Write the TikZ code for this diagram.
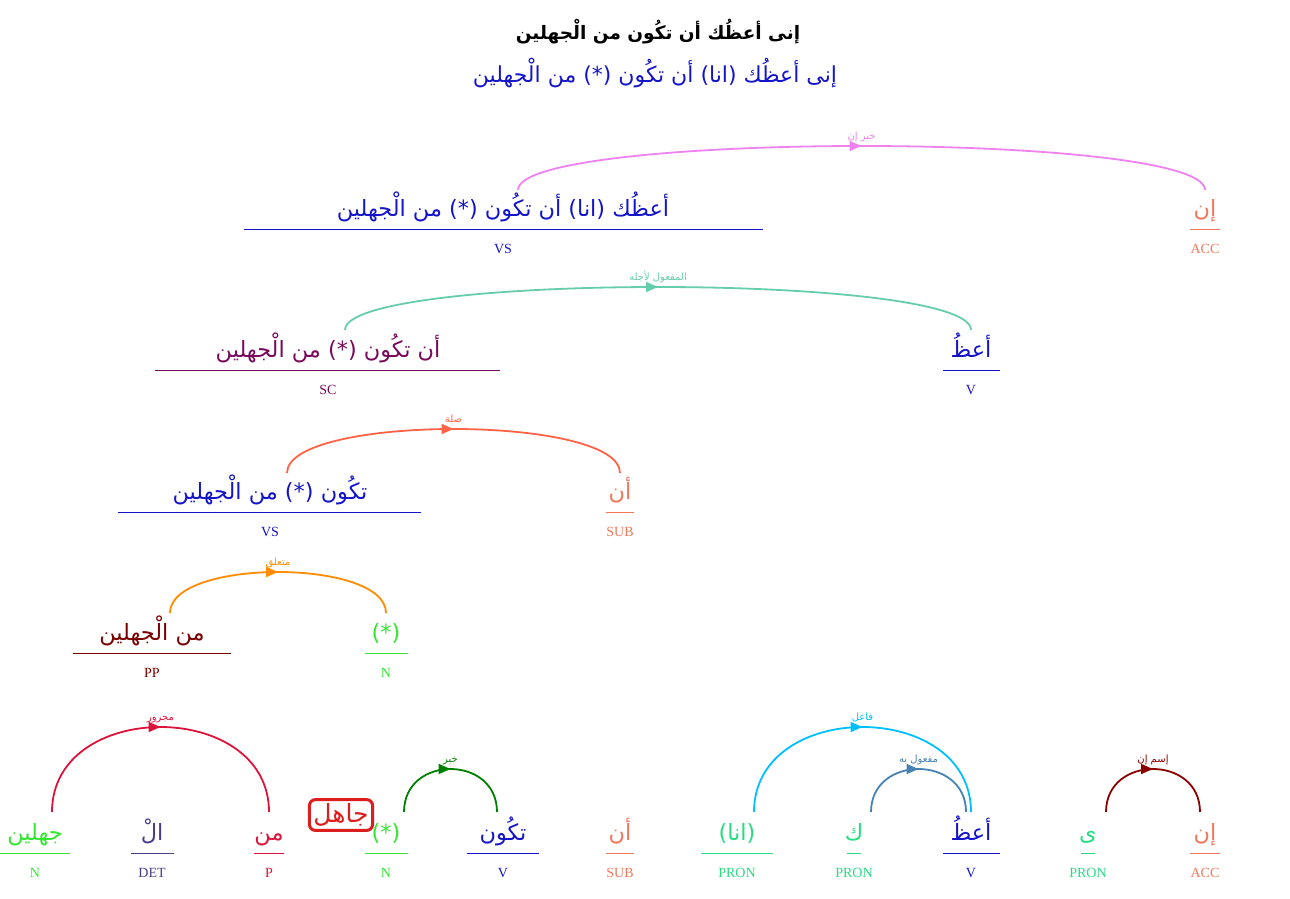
\documentclass[tikz,border=0pt]{standalone}
\usepackage{fontspec}
\setmainfont{Liberation Serif}
\newfontfamily\arabicfont[Script=Arabic]{DejaVu Sans}
\TeXXeTstate=1
\usetikzlibrary{decorations.markings,arrows.meta}
\definecolor{cblue}{RGB}{20,20,200}
\definecolor{csalmon}{RGB}{240,120,90}
\definecolor{cpurple}{RGB}{120,10,90}
\definecolor{cgreen}{RGB}{50,230,50}
\definecolor{cspring}{RGB}{40,220,130}
\definecolor{cmaroon}{RGB}{120,0,0}
\definecolor{cdet}{RGB}{72,61,139}
\definecolor{ccrimson}{RGB}{220,20,60}
\definecolor{cviolet}{RGB}{238,130,238}
\definecolor{caqua}{RGB}{102,205,170}
\definecolor{ctomato}{RGB}{255,99,71}
\definecolor{corange}{RGB}{255,140,0}
\definecolor{cdkgreen}{RGB}{0,128,0}
\definecolor{csky}{RGB}{0,191,255}
\definecolor{csteel}{RGB}{70,130,180}
\definecolor{cdkred}{RGB}{139,0,0}
\definecolor{cboxred}{RGB}{220,30,30}
\tikzset{
  word/.style={anchor=base, inner sep=0pt, font=\fontsize{22.4}{26}\selectfont\arabicfont},
  tagtxt/.style={anchor=base, inner sep=0pt, font=\fontsize{14}{16}\selectfont},
  ul/.style={line width=0.9pt},
  dep/.style={line width=1.8pt, postaction={decorate},
    decoration={markings, mark=at position 0.5 with {\arrow{Triangle[length=12pt,width=10pt]}}}},
  deplabel/.style={anchor=base, inner sep=0pt, font=\fontsize{10}{11}\selectfont\arabicfont},
  titlea/.style={inner sep=0pt, font=\fontsize{18.5}{22}\selectfont\arabicfont\bfseries},
  titleb/.style={inner sep=0pt, text=cblue, font=\fontsize{22}{26}\selectfont\arabicfont}
}
% #1 name, #2 x, #3 line y, #4 x1, #5 x2, #6 colour, #7 text, #8 tag
\newcommand\wunit[8]{%
  \node[word, text=#6] (#1) at (#2,#3-13) {#7};
  \draw[#6, ul] (#4,#3) -- (#5,#3);
  \node[tagtxt, text=#6] (#1t) at (#2,#3+24) {#8};
}
% #1 name, #2 x1, #3 x2, #4 y ends, #5 top y, #6 colour, #7 label
\newcommand\deparc[7]{%
  \coordinate (#1a) at (#2,#4);
  \coordinate (#1b) at (#3,#4);
  \pgfmathsetmacro\cyv{#4-(#4-#5)*4/3}
  \draw[dep, #6] (#1a) .. controls (#2,\cyv) and (#3,\cyv) .. (#1b);
  \node[deplabel, text=#6] (#1l) at ({(#2+#3)/2},#5-7) {#7};
}
\begin{document}
\begin{tikzpicture}[x=1pt,y=-1pt]
\useasboundingbox (0,0) rectangle (1290,899);
\node[titlea] (t1) at (658,32) {\beginR إنى أعظُك أن تكُون من الْجهلين\endR};
\node[titleb] (t2) at (655,73) {\beginR إنى أعظُك (انا) أن تكُون (*) من الْجهلين\endR};
% level 1
\wunit{w1}{503}{229}{244}{763}{cblue}{\beginR أعظُك (انا) أن تكُون (*) من الْجهلين\endR}{VS}
\wunit{w2}{1205}{229}{1190}{1220}{csalmon}{\beginR إن\endR}{ACC}
\deparc{a1}{518}{1205}{190}{146}{cviolet}{\beginR خبر إن\endR}
% level 2
\wunit{w3}{328}{370}{155}{500}{cpurple}{\beginR أن تكُون (*) من الْجهلين\endR}{SC}
\wunit{w4}{971}{370}{943}{1000}{cblue}{\beginR أعظُ\endR}{V}
\deparc{a2}{345}{971}{330}{287}{caqua}{\beginR المفعول لأجله\endR}
% level 3
\wunit{w5}{270}{512}{118}{421}{cblue}{\beginR تكُون (*) من الْجهلين\endR}{VS}
\wunit{w6}{620}{512}{606}{634}{csalmon}{\beginR أن\endR}{SUB}
\deparc{a3}{287}{620}{473}{429}{ctomato}{\beginR صلة\endR}
% level 4
\wunit{w7}{152}{653}{73}{231}{cmaroon}{\beginR من الْجهلين\endR}{PP}
\wunit{w8}{386}{653}{365}{408}{cgreen}{\beginR (*)\endR}{N}
\deparc{a4}{170}{386}{613}{572}{corange}{\beginR متعلق\endR}
% bottom row
\wunit{b1}{35}{853}{0}{70}{cgreen}{\beginR جهلين\endR}{N}
\wunit{b2}{152}{853}{131}{174}{cdet}{\beginR الْ\endR}{DET}
\wunit{b3}{269}{853}{254}{284}{ccrimson}{\beginR من\endR}{P}
\wunit{b4}{386}{853}{365}{408}{cgreen}{\beginR (*)\endR}{N}
\wunit{b5}{503}{853}{467}{539}{cblue}{\beginR تكُون\endR}{V}
\wunit{b6}{620}{853}{606}{634}{csalmon}{\beginR أن\endR}{SUB}
\wunit{b7}{737}{853}{701}{773}{cspring}{\beginR (انا)\endR}{PRON}
\wunit{b8}{854}{853}{847}{861}{cspring}{\beginR ك\endR}{PRON}
\wunit{b9}{971}{853}{943}{1000}{cblue}{\beginR أعظُ\endR}{V}
\wunit{b10}{1088}{853}{1081}{1095}{cspring}{\beginR ى\endR}{PRON}
\wunit{b11}{1205}{853}{1190}{1220}{csalmon}{\beginR إن\endR}{ACC}
\deparc{c1}{52}{269}{812}{727}{ccrimson}{\beginR مجرور\endR}
\deparc{c2}{404}{497}{812}{769}{cdkgreen}{\beginR خبر\endR}
\deparc{c3}{754}{971}{812}{727}{csky}{\beginR فاعل\endR}
\deparc{c4}{871}{966}{812}{769}{csteel}{\beginR مفعول به\endR}
\deparc{c5}{1106}{1200}{812}{769}{cdkred}{\beginR إسم إن\endR}
\node[draw=cboxred, line width=3pt, rounded corners=6pt, text=cboxred, inner sep=4pt,
  font=\fontsize{25}{28}\selectfont\arabicfont] (box) at (341,815) {\beginR جاهل\endR};
\end{tikzpicture}
\end{document}
